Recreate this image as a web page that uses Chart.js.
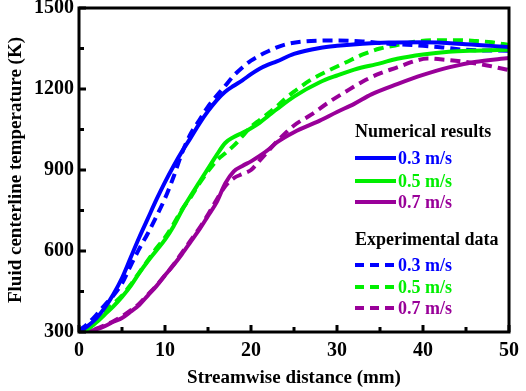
<!DOCTYPE html>
<html>
<head>
<meta charset="utf-8">
<script src="https://cdn.jsdelivr.net/npm/chart.js@4.4.1/dist/chart.umd.min.js"></script>
<style>
html,body{margin:0;padding:0;background:#fff;}
#wrap{width:526px;height:391px;position:relative;}
</style>
</head>
<body>
<div id="wrap"><canvas id="c" width="526" height="391"></canvas></div>
<script>
// ---- data (x in mm, T in K) ----
const num03X = [0,1,2,3,4,5,6,7,8,9,10,11,12,13,14,15,16,17,18,19,20,21,22,23,25,28,30,33,36,40,45,50];
const num03T = [300,322,350,390,440,500,575,650,720,790,855,915,970,1020,1072,1118,1158,1190,1212,1232,1255,1275,1290,1302,1330,1352,1360,1368,1372,1373,1366,1355];
const exp03X = [0,1,2,3,4,5,6,7,8,9,10,11,12,13,14,15,16,17,18,19,20,22,24,27,30,33,36,40,42,45,50];
const exp03T = [305,330,363,400,435,480,545,608,665,728,795,875,965,1035,1085,1135,1175,1212,1250,1280,1305,1340,1365,1378,1380,1376,1368,1360,1355,1345,1342];
const num05X = [0,1,2,3,4,5,6,7,8,9,10,11,12,13,14,15,16,17,18,19,20,21,22,23,25,28,30,32,35,37,40,43,46,50];
const num05T = [300,310,335,365,395,430,470,518,562,602,642,692,752,805,855,905,955,1000,1022,1038,1055,1075,1100,1125,1172,1225,1250,1272,1295,1312,1328,1338,1342,1345];
const exp05X = [0,1,2,3,4,5,6,7,8,9,10,11,12,13,14,15,16,17,18,19,20,21,22,23,24,25,27,29,31,33,35,37,39,42,44,46,48,50];
const exp05T = [300,315,345,378,405,435,475,520,565,610,650,700,755,800,850,895,935,962,990,1025,1060,1085,1110,1135,1165,1190,1235,1268,1298,1328,1350,1363,1375,1381,1381,1378,1373,1363];
const num07X = [0,1,2,3,4,5,6,7,8,9,10,11,12,13,14,15,16,17,18,19,20,21,22,23,25,28,30,32,34,37,40,43,46,50];
const num07T = [300,303,310,322,338,352,375,400,435,470,510,548,590,635,680,730,780,850,895,915,932,952,975,1002,1040,1083,1115,1145,1180,1218,1252,1280,1300,1315];
const exp07X = [0,1,2,3,4,5,6,7,8,9,10,11,12,13,14,15,16,17,18,19,20,21,22,23,25,27,29,31,33,35,37,39,40.5,42,45,47,49,50];
const exp07T = [300,305,312,325,340,358,380,405,438,472,510,550,595,640,685,735,790,840,870,885,900,935,970,1005,1065,1105,1150,1190,1228,1258,1280,1303,1313,1310,1300,1290,1277,1270];

const speedLabels = ['0.3 m/s','0.5 m/s','0.7 m/s'];
const xTicks = [0,10,20,30,40,50];
const yTicks = [300,600,900,1200,1500];
const xMinor = [5,15,25,35,45];
const yMinor = [450,750,1050,1350];

const COLORS = ['#0000ff','#00ee00','#990099'];
const FONT = "'Liberation Serif','Times New Roman',serif";

function pts(xs, ys){ return xs.map((x,i)=>({x:x,y:ys[i]})); }

function ds(xs, ys, color, dashed){
  return {
    data: pts(xs, ys), borderColor: color, backgroundColor: color,
    borderWidth: 4, pointRadius: 0, fill:false,
    cubicInterpolationMode:'monotone',
    borderDash: dashed ? [10,6] : [],
    borderCapStyle: 'butt'
  };
}

const datasets = [
  ds(num03X, num03T, COLORS[0], false),
  ds(num05X, num05T, COLORS[1], false),
  ds(num07X, num07T, COLORS[2], false),
  ds(exp03X, exp03T, COLORS[0], true),
  ds(exp05X, exp05T, COLORS[1], true),
  ds(exp07X, exp07T, COLORS[2], true)
];

const framePlugin = {
  id:'frame',
  afterDraw(chart){
    const {ctx, chartArea:a, scales:{x, y}} = chart;
    ctx.save();
    ctx.strokeStyle = '#000';
    ctx.lineWidth = 3;
    ctx.strokeRect(a.left, a.top, a.right - a.left, a.bottom - a.top);
    // inward ticks
    const tick = (px1,py1,px2,py2)=>{ctx.beginPath();ctx.moveTo(px1,py1);ctx.lineTo(px2,py2);ctx.stroke();};
    xTicks.forEach(v=>{ const p=x.getPixelForValue(v); tick(p,a.bottom,p,a.bottom-7); });
    xMinor.forEach(v=>{ const p=x.getPixelForValue(v); tick(p,a.bottom,p,a.bottom-5); });
    yTicks.forEach(v=>{ const p=y.getPixelForValue(v); tick(a.left,p,a.left+7,p); });
    yMinor.forEach(v=>{ const p=y.getPixelForValue(v); tick(a.left,p,a.left+5,p); });

    // legend
    ctx.textBaseline = 'middle';
    ctx.textAlign = 'left';
    ctx.font = "bold 18px " + FONT;
    ctx.fillStyle = '#000';
    ctx.fillText('Numerical results', 355, 132);
    ctx.fillText('Experimental data', 355, 240);
    const rowsN = [158,181,202];
    const rowsE = [265,287,308];
    ctx.lineWidth = 4;
    for(let i=0;i<3;i++){
      ctx.strokeStyle = COLORS[i];
      ctx.setLineDash([]);
      tick(355, rowsN[i], 396, rowsN[i]);
      ctx.setLineDash([9,6]);
      tick(355, rowsE[i], 396, rowsE[i]);
      ctx.setLineDash([]);
      ctx.fillStyle = COLORS[i];
      ctx.fillText(speedLabels[i], 398, rowsN[i]+1);
      ctx.fillText(speedLabels[i], 398, rowsE[i]+1);
    }
    ctx.restore();
  }
};

new Chart(document.getElementById('c'), {
  type:'line',
  data:{datasets},
  options:{
    responsive:false, animation:false,
    layout:{padding:{top:0,right:12,left:0,bottom:0}},
    plugins:{legend:{display:false}, tooltip:{enabled:false}},
    scales:{
      x:{
        type:'linear', min:0, max:50,
        afterFit(s){ s.height = 59; },
        afterBuildTicks(s){ s.ticks = xTicks.map(v=>({value:v})); },
        grid:{display:false, drawTicks:false},
        border:{display:false},
        ticks:{color:'#000', padding:7, font:{family:FONT, size:20, weight:'bold'}, maxRotation:0,
               callback:(v)=>String(v)},
        title:{display:true, text:'Streamwise distance (mm)', color:'#000',
               font:{family:FONT, size:19, weight:'bold'}, padding:{top:0,bottom:2}}
      },
      y:{
        type:'linear', min:300, max:1500,
        afterFit(s){ s.width = 79; s.paddingTop = 8; s.paddingBottom = 0; },
        afterBuildTicks(s){ s.ticks = yTicks.map(v=>({value:v})); },
        grid:{display:false, drawTicks:false},
        border:{display:false},
        ticks:{color:'#000', padding:5, font:{family:FONT, size:20, weight:'bold', lineHeight:0.8},
               callback:(v)=>String(v)},
        title:{display:true, text:'Fluid centerline temperature (K)', color:'#000',
               font:{family:FONT, size:19, weight:'bold'}, padding:{top:5,bottom:0}}
      }
    }
  },
  plugins:[framePlugin]
});
</script>
</body>
</html>
